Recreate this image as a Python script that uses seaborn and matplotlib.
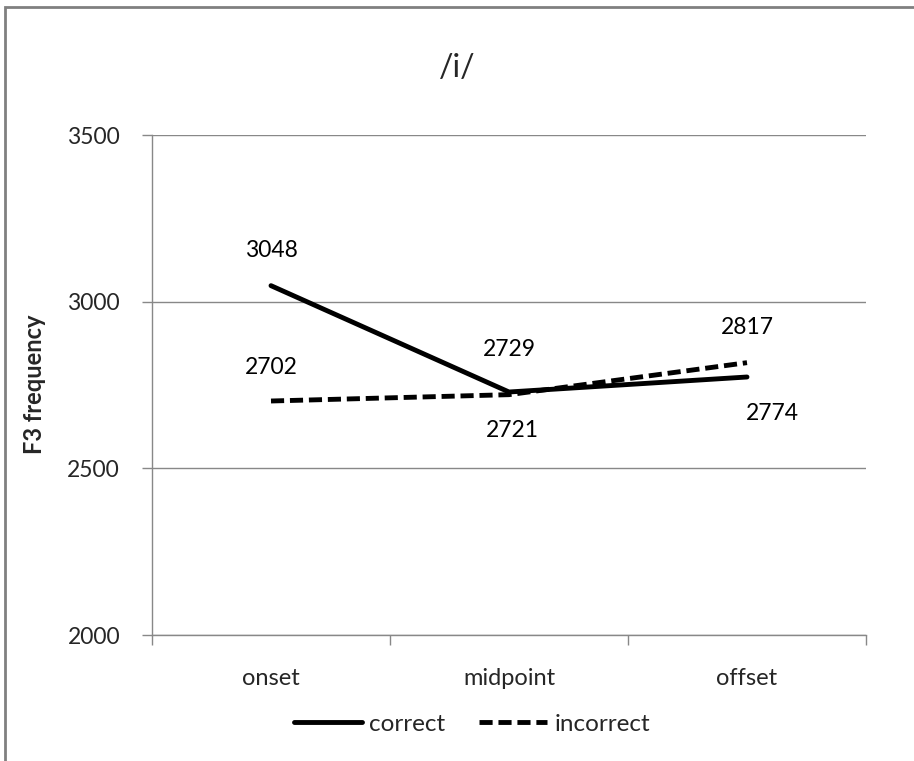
import matplotlib
matplotlib.use("Agg")
import matplotlib.pyplot as plt
import matplotlib.patches as mpatches
import seaborn as sns
import pandas as pd

# Data
positions = ["onset", "midpoint", "offset"]
correct = [3048, 2729, 2774]
incorrect = [2702, 2721, 2817]
series_names = ["correct", "incorrect"]
y_ticks = [2000, 2500, 3000, 3500]

# Label offsets (pixels) for value annotations
correct_offsets = [(0, 35), (0, 42), (25, -36)]
incorrect_offsets = [(0, 34), (3, -36), (0, 35)]

df = pd.DataFrame({
    "position": positions * 2,
    "x": list(range(len(positions))) * 2,
    "value": correct + incorrect,
    "series": [series_names[0]] * 3 + [series_names[1]] * 3,
})

sns.set_style("white")
plt.rcParams["font.family"] = ["Lato", "DejaVu Sans"]

fig = plt.figure(figsize=(9.14, 7.61), dpi=100)
ax = fig.add_axes([152 / 914, 126 / 761, 714 / 914, 500 / 761])

grid_col = "#888888"
LW = 3.5
DASH = (2.7, 1.2)
sns.lineplot(
    data=df, x="x", y="value", style="series", ax=ax,
    color="black", linewidth=LW,
    dashes={"correct": "", "incorrect": DASH},
    legend=False,
)

ax.set_xlim(-0.5, 2.5)
ax.set_ylim(2000, 3500)
ax.set_yticks(y_ticks)
ax.set_yticklabels([str(t) for t in y_ticks], fontsize=16.5)
ax.set_xticks(range(len(positions)))
ax.set_xticklabels(positions, fontsize=17)
ax.tick_params(axis="x", length=0, pad=24)
ax.tick_params(axis="y", length=7, color=grid_col, width=1, pad=16, left=True)
# category boundary tick marks
ax.set_xticks([-0.5, 0.5, 1.5, 2.5], minor=True)
ax.tick_params(axis="x", which="minor", length=7, color=grid_col, width=1, bottom=True)

ax.yaxis.grid(True, color=grid_col, linewidth=1)
ax.set_axisbelow(True)
for side in ["top", "right"]:
    ax.spines[side].set_visible(False)
for side in ["left", "bottom"]:
    ax.spines[side].set_color(grid_col)
    ax.spines[side].set_linewidth(1)

ax.set_xlabel("")
ax.set_ylabel("")
fig.text(35 / 914, 1 - 384 / 761, "F3 frequency", rotation=90, ha="center", va="center",
         fontsize=17, fontweight="bold")

# Value labels
for vals, offs in [(correct, correct_offsets), (incorrect, incorrect_offsets)]:
    for i, (v, off) in enumerate(zip(vals, offs)):
        ax.annotate(str(v), (i, v), xytext=off, textcoords="offset pixels",
                    ha="center", va="center", fontsize=16.5, color="black")

fig.text(457 / 914, 1 - 68 / 761, "/i/", ha="center", va="center", fontsize=23)

# Legend
handles = [
    plt.Line2D([], [], color="black", lw=LW, ls="-"),
    plt.Line2D([], [], color="black", lw=LW, dashes=DASH),
]
fig.legend(handles, series_names, loc="center", bbox_to_anchor=(472 / 914, 1 - 724 / 761),
           ncol=2, frameon=False, fontsize=17.5, handlelength=2.8, handletextpad=0.3,
           columnspacing=1.4)

# Chart area border
fig.add_artist(mpatches.Rectangle((5 / 914, -0.1), 1.2, 1 - 7 / 761 + 0.1,
                                  transform=fig.transFigure, fill=False,
                                  edgecolor="#808080", linewidth=2))

fig.savefig("out.png", dpi=100)
